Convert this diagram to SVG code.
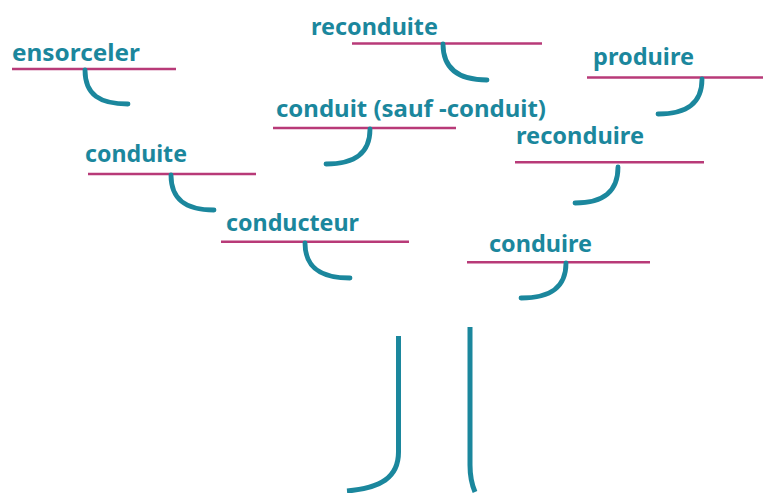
<svg xmlns="http://www.w3.org/2000/svg" width="763" height="493" viewBox="0 0 763 493">
<style>
.t{font-family:"Noto Sans","Open Sans",sans-serif;font-weight:700;font-size:24px;fill:#1b879d}
.u{stroke:#b83a78;stroke-width:2.6;fill:none}
.h{stroke:#1b879d;stroke-width:4.8;fill:none;stroke-linecap:round}
.tr{stroke:#1b879d;stroke-width:5;fill:none}
</style>
<rect width="763" height="493" fill="#fff"/>
<g id="ensorceler"><text class="t" x="12" y="61" textLength="128" lengthAdjust="spacingAndGlyphs">ensorceler</text><line class="u" x1="12" y1="69" x2="176" y2="69"/></g>
<g id="reconduite"><text class="t" x="311" y="35" textLength="127" lengthAdjust="spacingAndGlyphs">reconduite</text><line class="u" x1="352" y1="43.5" x2="542" y2="43.5"/></g>
<g id="conduit"><text class="t" x="276" y="116.5" textLength="270" lengthAdjust="spacingAndGlyphs">conduit (sauf -conduit)</text><line class="u" x1="273" y1="128" x2="456" y2="128"/></g>
<g id="produire"><text class="t" x="593" y="65" textLength="101" lengthAdjust="spacingAndGlyphs">produire</text><line class="u" x1="587" y1="77.5" x2="763" y2="77.5"/></g>
<g id="reconduire"><text class="t" x="516" y="144" textLength="128" lengthAdjust="spacingAndGlyphs">reconduire</text><line class="u" x1="515" y1="162.3" x2="704" y2="162.3"/></g>
<g id="conduite"><text class="t" x="85" y="162" textLength="102" lengthAdjust="spacingAndGlyphs">conduite</text><line class="u" x1="88" y1="174" x2="256" y2="174"/></g>
<g id="conducteur"><text class="t" x="226" y="231" textLength="133" lengthAdjust="spacingAndGlyphs">conducteur</text><line class="u" x1="221" y1="241.7" x2="409" y2="241.7"/></g>
<g id="conduire"><text class="t" x="489" y="252" textLength="103" lengthAdjust="spacingAndGlyphs">conduire</text><line class="u" x1="467" y1="262.3" x2="650" y2="262.3"/></g>
<g id="connectors">
<path class="h" d="M85,70 C85,95 100,104 128,104"/>
<path class="h" d="M443,44 C443,69 459,80 487,80"/>
<path class="h" d="M370,129 C370,154 354,164 326,164"/>
<path class="h" d="M702,79 C702,104 686,114 658,114"/>
<path class="h" d="M618,167 C618,192 603,203 575,203"/>
<path class="h" d="M171,175 C171,200 186,210 214,210"/>
<path class="h" d="M305,243 C305,268 321,278 350,278"/>
<path class="h" d="M566,263 C566,288 550,298 521,298"/>
<path class="tr" d="M398.5,336 L398.5,452 C398.5,478 380,488 347,491"/>
<path class="tr" d="M470,327 L470,465 C470,478 472,485 475,492"/>
</g>
</svg>
